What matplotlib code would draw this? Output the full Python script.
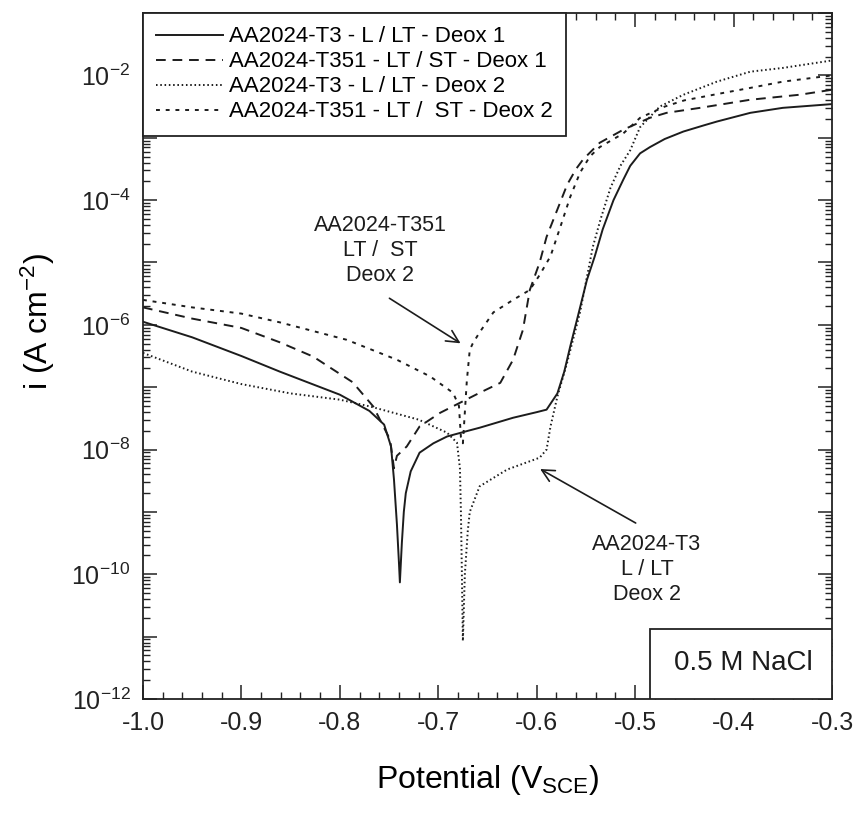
import numpy as np
import matplotlib.pyplot as plt
from matplotlib.ticker import FixedLocator, LogLocator, MultipleLocator, FormatStrFormatter, FuncFormatter, NullFormatter
from matplotlib.patches import Rectangle

plt.rcParams['font.family'] = 'Liberation Sans'
plt.rcParams['mathtext.fontset'] = 'custom'
plt.rcParams['mathtext.rm'] = 'Liberation Sans'
plt.rcParams['mathtext.it'] = 'Liberation Sans'
plt.rcParams['mathtext.default'] = 'regular'

# curve data: potential (V vs SCE) and log10 of current density (A cm-2)
v_t3_d1 = [-1.0, -0.95, -0.9, -0.861, -0.8, -0.77, -0.755, -0.748, -0.745, -0.742, -0.740,
           -0.739, -0.737, -0.735, -0.733, -0.728, -0.719, -0.705, -0.691, -0.67, -0.658,
           -0.624, -0.60, -0.590, -0.579, -0.572, -0.566, -0.558, -0.549, -0.541, -0.533,
           -0.522, -0.512, -0.505, -0.495, -0.485, -0.47, -0.451, -0.43, -0.417, -0.383,
           -0.35, -0.30]
logi_t3_d1 = [-5.95, -6.2, -6.5, -6.75, -7.12, -7.38, -7.6, -7.95, -8.48, -9.2, -9.8,
              -10.13, -9.5, -9.0, -8.7, -8.35, -8.05, -7.9, -7.79, -7.7, -7.65,
              -7.49, -7.4, -7.36, -7.1, -6.75, -6.35, -5.85, -5.28, -4.9, -4.47,
              -4.0, -3.67, -3.45, -3.25, -3.15, -3.02, -2.9, -2.8, -2.74, -2.6,
              -2.52, -2.46]

v_t351_d1 = [-1.0, -0.95, -0.9, -0.861, -0.827, -0.787, -0.766, -0.749, -0.745, -0.742,
             -0.732, -0.719, -0.698, -0.678, -0.658, -0.637, -0.624, -0.614, -0.607,
             -0.597, -0.590, -0.579, -0.569, -0.56, -0.553, -0.536, -0.512, -0.485,
             -0.468, -0.434, -0.383, -0.333, -0.30]
logi_t351_d1 = [-5.72, -5.9, -6.05, -6.28, -6.51, -6.92, -7.31, -7.84, -8.3, -8.1,
                -7.95, -7.63, -7.41, -7.25, -7.09, -6.93, -6.56, -6.08, -5.44,
                -5.0, -4.59, -4.15, -3.75, -3.5, -3.35, -3.08, -2.87, -2.68,
                -2.6, -2.52, -2.39, -2.31, -2.23]

v_t3_d2 = [-1.0, -0.95, -0.9, -0.85, -0.8, -0.769, -0.72, -0.691, -0.681, -0.678, -0.677,
           -0.676, -0.675, -0.673, -0.670, -0.668, -0.658, -0.630, -0.597, -0.590, -0.586,
           -0.579, -0.569, -0.556, -0.543, -0.535, -0.525, -0.515, -0.505, -0.495, -0.475,
           -0.451, -0.417, -0.383, -0.35, -0.30]
logi_t3_d2 = [-6.45, -6.75, -6.95, -7.1, -7.2, -7.31, -7.52, -7.73, -7.89, -8.3, -9.0,
              -10.0, -11.07, -10.0, -9.3, -9.0, -8.59, -8.32, -8.13, -8.0, -7.63,
              -7.15, -6.6, -5.8, -4.75, -4.3, -3.8, -3.45, -3.2, -2.83, -2.5,
              -2.31, -2.1, -1.94, -1.88, -1.76]

v_t351_d2 = [-1.0, -0.95, -0.9, -0.861, -0.793, -0.742, -0.708, -0.685, -0.679, -0.677,
             -0.675, -0.673, -0.671, -0.668, -0.665, -0.658, -0.644, -0.624, -0.607,
             -0.597, -0.586, -0.576, -0.566, -0.556, -0.546, -0.536, -0.512, -0.495,
             -0.47, -0.45, -0.417, -0.383, -0.35, -0.30]
logi_t351_d2 = [-5.6, -5.72, -5.82, -5.96, -6.24, -6.56, -6.83, -7.09, -7.3, -7.8,
                -7.9, -7.4, -6.9, -6.4, -6.3, -6.12, -5.8, -5.6, -5.44,
                -5.2, -4.9, -4.43, -3.95, -3.56, -3.3, -3.15, -2.93, -2.68,
                -2.5, -2.4, -2.3, -2.2, -2.1, -2.0]

labels = ['AA2024-T3 - L / LT - Deox 1', 'AA2024-T351 - LT / ST - Deox 1',
          'AA2024-T3 - L / LT - Deox 2', 'AA2024-T351 - LT /  ST - Deox 2']

fig = plt.figure(figsize=(8.56, 8.16), dpi=100)
ax = fig.add_axes([0.167, 0.1434, 0.805, 0.8406])

c = '#1c1c1c'
ax.plot(v_t3_d1, 10.0 ** np.array(logi_t3_d1), color=c, lw=1.4, ls='-', label=labels[0])
ax.plot(v_t351_d1, 10.0 ** np.array(logi_t351_d1), color=c, lw=1.4, ls=(0, (5, 3.5)), label=labels[1])
ax.plot(v_t3_d2, 10.0 ** np.array(logi_t3_d2), color=c, lw=1.4, ls=(0, (0.8, 1.4)), label=labels[2])
ax.plot(v_t351_d2, 10.0 ** np.array(logi_t351_d2), color=c, lw=1.4, ls=(0, (2, 3)), label=labels[3])

ax.set_yscale('log')
ax.set_xlim(-1.0, -0.3)
ax.set_ylim(1e-12, 1e-1)

ax.xaxis.set_major_locator(MultipleLocator(0.1))
ax.xaxis.set_minor_locator(MultipleLocator(0.02))
ax.xaxis.set_major_formatter(FormatStrFormatter('%.1f'))

ax.yaxis.set_major_locator(FixedLocator([10.0 ** k for k in range(-12, 0)]))
ax.yaxis.set_minor_locator(LogLocator(base=10, subs=np.arange(2, 10), numticks=100))
ax.yaxis.set_minor_formatter(NullFormatter())


def dec_fmt(y, pos):
    k = int(round(np.log10(y)))
    return r'$10^{%d}$' % k if k % 2 == 0 else ''


ax.yaxis.set_major_formatter(FuncFormatter(dec_fmt))

ax.tick_params(which='both', direction='in', top=True, right=True, colors='#222222')
ax.tick_params(which='major', length=10, width=1.1, labelsize=18, pad=9)
ax.tick_params(which='minor', length=5, width=1.0)
for s in ax.spines.values():
    s.set_linewidth(1.3)
    s.set_color('#222222')

ax.set_xlabel('Potential (V$_{SCE}$)', fontsize=23, labelpad=20)
ax.set_ylabel('i (A cm$^{-2}$)', fontsize=23)
ax.yaxis.set_label_coords(-0.125, 0.55)

leg = ax.legend(loc='upper left', bbox_to_anchor=(0, 1), borderaxespad=0, fancybox=False,
                edgecolor='#222222', framealpha=1, fontsize=16, handlelength=3.0,
                handletextpad=0.25, labelspacing=0.18, borderpad=0.6)
leg.get_frame().set_linewidth(1.3)

# annotations
ax.text(-0.759, 10 ** -4.80, 'AA2024-T351\nLT /  ST\nDeox 2', ha='center', va='center',
        fontsize=15.5, linespacing=1.25, color=c)
ax.annotate('', xy=(-0.675, 10 ** -6.32), xytext=(-0.752, 10 ** -5.55),
            arrowprops=dict(arrowstyle='->', color=c, lw=1.2, mutation_scale=22))
ax.text(-0.488, 10 ** -9.92, 'AA2024-T3\nL / LT\nDeox 2', ha='center', va='center',
        fontsize=15.5, linespacing=1.25, color=c)
ax.annotate('', xy=(-0.599, 10 ** -8.29), xytext=(-0.497, 10 ** -9.2),
            arrowprops=dict(arrowstyle='->', color=c, lw=1.2, mutation_scale=22))

ax.add_patch(Rectangle((0.736, 0), 0.264, 0.102, transform=ax.transAxes, fill=True,
                       facecolor='white', edgecolor='#222222', lw=1.3, zorder=5))
ax.text(0.871, 0.052, '0.5 M NaCl', transform=ax.transAxes, ha='center', va='center',
        fontsize=20, color=c, zorder=6)

fig.savefig('out.png', dpi=100)
